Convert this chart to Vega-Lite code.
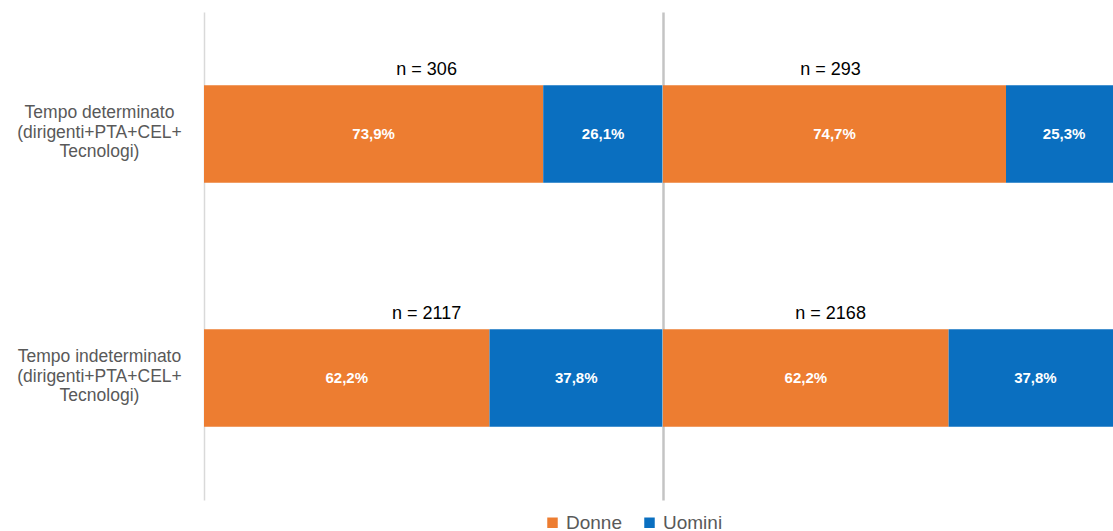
{
  "$schema": "https://vega.github.io/schema/vega-lite/v6.json",
  "padding": {"left": 16, "top": 12, "right": 0, "bottom": 0},
  "background": "white",
  "spacing": 0,
  "datasets": {
    "rows": [
      {"pannello": "sinistra", "categoria": "Tempo determinato|(dirigenti+PTA+CEL+|Tecnologi)", "genere": "Donne", "pct": 73.9, "etichetta": "73,9%"},
      {"pannello": "sinistra", "categoria": "Tempo determinato|(dirigenti+PTA+CEL+|Tecnologi)", "genere": "Uomini", "pct": 26.1, "etichetta": "26,1%"},
      {"pannello": "sinistra", "categoria": "Tempo indeterminato|(dirigenti+PTA+CEL+|Tecnologi)", "genere": "Donne", "pct": 62.2, "etichetta": "62,2%"},
      {"pannello": "sinistra", "categoria": "Tempo indeterminato|(dirigenti+PTA+CEL+|Tecnologi)", "genere": "Uomini", "pct": 37.8, "etichetta": "37,8%"},
      {"pannello": "destra", "categoria": "Tempo determinato|(dirigenti+PTA+CEL+|Tecnologi)", "genere": "Donne", "pct": 74.7, "etichetta": "74,7%"},
      {"pannello": "destra", "categoria": "Tempo determinato|(dirigenti+PTA+CEL+|Tecnologi)", "genere": "Uomini", "pct": 25.3, "etichetta": "25,3%"},
      {"pannello": "destra", "categoria": "Tempo indeterminato|(dirigenti+PTA+CEL+|Tecnologi)", "genere": "Donne", "pct": 62.2, "etichetta": "62,2%"},
      {"pannello": "destra", "categoria": "Tempo indeterminato|(dirigenti+PTA+CEL+|Tecnologi)", "genere": "Uomini", "pct": 37.8, "etichetta": "37,8%"}
    ],
    "totali": [
      {"pannello": "sinistra", "categoria": "Tempo determinato|(dirigenti+PTA+CEL+|Tecnologi)", "n": "n = 306"},
      {"pannello": "sinistra", "categoria": "Tempo indeterminato|(dirigenti+PTA+CEL+|Tecnologi)", "n": "n = 2117"},
      {"pannello": "destra", "categoria": "Tempo determinato|(dirigenti+PTA+CEL+|Tecnologi)", "n": "n = 293"},
      {"pannello": "destra", "categoria": "Tempo indeterminato|(dirigenti+PTA+CEL+|Tecnologi)", "n": "n = 2168"}
    ]
  },
  "config": {
    "font": "Liberation Sans",
    "view": {"stroke": null},
    "legend": {
      "orient": "none",
      "legendX": 339,
      "legendY": 501,
      "direction": "horizontal",
      "title": null,
      "symbolType": "square",
      "symbolSize": 110,
      "labelFontSize": 19,
      "labelColor": "#595959",
      "labelFont": "Liberation Sans",
      "columnPadding": 18,
      "labelOffset": 4,
      "symbolStrokeWidth": 0
    }
  },
  "hconcat": [
    {
      "width": 459,
      "height": 488,
      "layer": [
        {
          "data": {"name": "rows"},
          "transform": [{"filter": "datum.pannello === 'sinistra'"}],
          "mark": {"type": "bar"},
          "encoding": {
            "y": {"field": "categoria", "type": "nominal", "title": null,
              "scale": {"paddingInner": 0.6, "paddingOuter": 0.3},
              "axis": {"labelExpr": "split(datum.label, '|')", "ticks": false, "labelPadding": 105, "labelOffset": -21, "labelAlign": "center", "labelBaseline": "middle", "labelFontSize": 17.5, "labelColor": "#595959", "labelLineHeight": 19.5, "domainColor": "#d9d9d9", "domainWidth": 1.5, "labelLimit": 300}},
            "x": {"field": "pct", "type": "quantitative", "stack": "zero", "scale": {"domain": [0, 100], "nice": false}, "axis": null},
            "order": {"field": "genere", "sort": "ascending"},
            "color": {"field": "genere", "type": "nominal", "scale": {"domain": ["Donne", "Uomini"], "range": ["#ED7D31", "#0A6FC0"]},
              "legend": {"symbolLimit": 2, "labelLimit": 200}}
          }
        },
        {
          "data": {"name": "rows"},
          "transform": [{"filter": "datum.pannello === 'sinistra'"}],
          "mark": {"type": "text", "color": "white", "fontWeight": "bold", "fontSize": 15},
          "encoding": {
            "y": {"field": "categoria", "type": "nominal"},
            "x": {"field": "pct", "type": "quantitative", "stack": "zero", "bandPosition": 0.5},
            "order": {"field": "genere", "sort": "ascending"},
            "detail": {"field": "genere"},
            "text": {"field": "etichetta"}
          }
        },
        {
          "data": {"name": "totali"},
          "transform": [{"filter": "datum.pannello === 'sinistra'"}],
          "mark": {"type": "text", "color": "black", "fontSize": 18, "yOffset": -64},
          "encoding": {
            "y": {"field": "categoria", "type": "nominal"},
            "x": {"datum": 48.5},
            "text": {"field": "n"}
          }
        }
      ]
    },
    {
      "width": 450,
      "height": 488,
      "layer": [
        {
          "data": {"name": "rows"},
          "transform": [{"filter": "datum.pannello === 'destra'"}],
          "mark": {"type": "bar", "clip": true},
          "encoding": {
            "y": {"field": "categoria", "type": "nominal", "title": null,
              "scale": {"paddingInner": 0.6, "paddingOuter": 0.3},
              "axis": {"labels": false, "ticks": false, "domainColor": "#c4c4c4", "domainWidth": 2.5}},
            "x": {"field": "pct", "type": "quantitative", "stack": "zero", "scale": {"domain": [0, 98], "nice": false}, "axis": null},
            "order": {"field": "genere", "sort": "ascending"},
            "color": {"field": "genere", "type": "nominal", "scale": {"domain": ["Donne", "Uomini"], "range": ["#ED7D31", "#0A6FC0"]}}
          }
        },
        {
          "data": {"name": "rows"},
          "transform": [{"filter": "datum.pannello === 'destra'"}],
          "mark": {"type": "text", "color": "white", "fontWeight": "bold", "fontSize": 15},
          "encoding": {
            "y": {"field": "categoria", "type": "nominal"},
            "x": {"field": "pct", "type": "quantitative", "stack": "zero", "bandPosition": 0.5},
            "order": {"field": "genere", "sort": "ascending"},
            "detail": {"field": "genere"},
            "text": {"field": "etichetta"}
          }
        },
        {
          "data": {"name": "totali"},
          "transform": [{"filter": "datum.pannello === 'destra'"}],
          "mark": {"type": "text", "color": "black", "fontSize": 18, "yOffset": -64},
          "encoding": {
            "y": {"field": "categoria", "type": "nominal"},
            "x": {"datum": 36.5},
            "text": {"field": "n"}
          }
        }
      ]
    }
  ]
}
